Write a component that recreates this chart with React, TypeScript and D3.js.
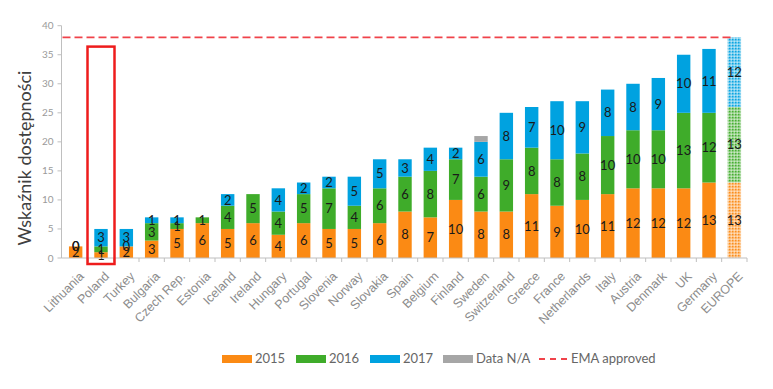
import React, { useEffect, useRef } from "react";
import * as d3 from "d3";

// countries in chart order
const countries = [
  "Lithuania", "Poland", "Turkey", "Bulgaria", "Czech Rep.", "Estonia", "Iceland",
  "Ireland", "Hungary", "Portugal", "Slovenia", "Norway", "Slovakia", "Spain",
  "Belgium", "Finland", "Sweden", "Switzerland", "Greece", "France", "Netherlands",
  "Italy", "Austria", "Denmark", "UK", "Germany", "EUROPE",
];
const v2015 = [2, 1, 2, 3, 5, 6, 5, 6, 4, 6, 5, 5, 6, 8, 7, 10, 8, 8, 11, 9, 10, 11, 12, 12, 12, 13, 13];
const v2016 = [0, 1, 0, 3, 1, 1, 4, 5, 4, 5, 7, 4, 6, 6, 8, 7, 6, 9, 8, 8, 8, 10, 10, 10, 13, 12, 13];
const v2017 = [0, 3, 3, 1, 1, 0, 2, 0, 4, 2, 2, 5, 5, 3, 4, 2, 6, 8, 7, 10, 9, 8, 8, 9, 10, 11, 12];
const vNA = [0, 0, 0, 0, 0, 0, 0, 0, 0, 0, 0, 0, 0, 0, 0, 0, 1, 0, 0, 0, 0, 0, 0, 0, 0, 0, 0];
// Estonia and Ireland show no 2017 label
const showLabel2017 = [true, true, true, true, true, false, true, false, true, true, true, true, true, true, true, true, true, true, true, true, true, true, true, true, true, true, true];
const emaApproved = 38;
const highlighted = "Poland";
const highlightTop = 36.4;
const yTicks = [0, 5, 10, 15, 20, 25, 30, 35, 40];

const seriesKeys = ["2015", "2016", "2017", "Data N/A"];
const colors: Record<string, string> = {
  "2015": "#fb8a14",
  "2016": "#3fac2a",
  "2017": "#00a2e0",
  "Data N/A": "#a6a6a6",
};

const W = 773, H = 389;

const App: React.FC = () => {
  const svgRef = useRef<SVGSVGElement | null>(null);

  useEffect(() => {
    const svg = d3.select(svgRef.current);
    svg.selectAll("*").remove();

    const rows = countries.map((c, i) => ({
      country: c,
      "2015": v2015[i],
      "2016": v2016[i],
      "2017": v2017[i],
      "Data N/A": vNA[i],
      i,
    }));

    const x = d3.scaleBand().domain(countries).range([63, 747]).paddingInner(0.47).paddingOuter(0.235);
    const y = d3.scaleLinear().domain([0, 40]).range([258, 25.7]);
    const axisColor = "#bfbfbf";
    const x0 = 61.5;

    // patterns for the EUROPE bar
    const defs = svg.append("defs");
    seriesKeys.forEach(k => {
      const p = defs.append("pattern")
        .attr("id", "pat-" + k.replace(/\W/g, ""))
        .attr("patternUnits", "userSpaceOnUse")
        .attr("width", 3).attr("height", 3);
      p.append("rect").attr("width", 3).attr("height", 3).attr("fill", "#fff");
      p.append("rect").attr("width", 3).attr("height", 3).attr("fill", colors[k]).attr("opacity", 0.5);
      p.append("circle").attr("cx", 0.75).attr("cy", 0.75).attr("r", 0.8).attr("fill", colors[k]);
      p.append("circle").attr("cx", 2.25).attr("cy", 2.25).attr("r", 0.6).attr("fill", "#fff").attr("opacity", 0.8);
    });

    // y axis
    svg.append("line").attr("x1", x0).attr("x2", x0).attr("y1", y(0)).attr("y2", y(40))
      .attr("stroke", axisColor);
    const yt = svg.append("g");
    yTicks.forEach(t => {
      yt.append("line").attr("x1", x0 - 4).attr("x2", x0).attr("y1", y(t)).attr("y2", y(t)).attr("stroke", axisColor);
      yt.append("text").attr("x", x0 - 8).attr("y", y(t)).attr("dy", "0.35em")
        .attr("text-anchor", "end").attr("font-family", "Lato, sans-serif").attr("font-size", 10)
        .attr("fill", "#9a9a9a").text(t);
    });

    svg.append("text")
      .attr("transform", `translate(31,158) rotate(-90)`)
      .attr("text-anchor", "middle")
      .attr("font-family", "Lato, sans-serif").attr("font-size", 18).attr("fill", "#404040")
      .text("Wskaźnik dostępności");

    // stacked bars
    const stack = d3.stack<any>().keys(seriesKeys)(rows);
    const g = svg.append("g");
    stack.forEach(layer => {
      const k = layer.key;
      layer.forEach(d => {
        const row = d.data;
        const h = y(d[0]) - y(d[1]);
        if (h <= 0) return;
        const fill = row.country === "EUROPE" ? `url(#pat-${k.replace(/\W/g, "")})` : colors[k];
        g.append("rect")
          .attr("x", x(row.country)!)
          .attr("y", y(d[1]))
          .attr("width", x.bandwidth())
          .attr("height", h)
          .attr("fill", fill);
      });
    });

    // value labels
    const lab = svg.append("g").attr("font-family", "Lato, sans-serif").attr("font-size", 13)
      .attr("fill", "#1a1a1a").attr("text-anchor", "middle");
    stack.forEach(layer => {
      const k = layer.key;
      if (k === "Data N/A") return;
      layer.forEach(d => {
        const row = d.data;
        if (k === "2017" && !showLabel2017[row.i]) return;
        lab.append("text")
          .attr("x", x(row.country)! + x.bandwidth() / 2)
          .attr("y", y((d[0] + d[1]) / 2))
          .attr("dy", "0.36em")
          .text(row[k]);
      });
    });

    // x axis
    svg.append("line").attr("x1", x0).attr("x2", x.range()[1]).attr("y1", y(0)).attr("y2", y(0))
      .attr("stroke", axisColor);
    const step = x.step();
    countries.forEach((c, i) => {
      const bx = x.range()[0] + step * (i + 1);
      svg.append("line").attr("x1", bx).attr("x2", bx).attr("y1", y(0)).attr("y2", y(0) + 4).attr("stroke", axisColor);
      const cx = x(c)! + x.bandwidth() / 2;
      svg.append("text")
        .attr("transform", `translate(${cx + 9},${y(0) + 19}) rotate(-45)`)
        .attr("text-anchor", "end")
        .attr("font-family", "Liberation Sans, Arial, sans-serif").attr("font-size", 12.5)
        .attr("fill", "#8c8c8c")
        .text(c);
    });

    // EMA approved line
    svg.append("line")
      .attr("x1", x0 + 1).attr("x2", x("EUROPE")! + x.bandwidth() / 2)
      .attr("y1", y(emaApproved)).attr("y2", y(emaApproved))
      .attr("stroke", "#f0434a").attr("stroke-width", 1.8).attr("stroke-dasharray", "8,4");

    // highlight box
    const hx = x(highlighted)! + x.bandwidth() / 2;
    svg.append("rect")
      .attr("x", hx - 13.5).attr("y", y(highlightTop))
      .attr("width", 27).attr("height", y(0) + 6 - y(highlightTop))
      .attr("fill", "none").attr("stroke", "#ee1c1c").attr("stroke-width", 2.5);

    // legend
    const leg = svg.append("g").attr("font-family", "Lato, sans-serif").attr("font-size", 13).attr("fill", "#666");
    const legItems = [
      { k: "2015", x: 222 },
      { k: "2016", x: 296 },
      { k: "2017", x: 370 },
      { k: "Data N/A", x: 443 },
    ];
    legItems.forEach(it => {
      leg.append("rect").attr("x", it.x).attr("y", 355).attr("width", 30).attr("height", 8).attr("fill", colors[it.k]);
      leg.append("text").attr("x", it.x + 33).attr("y", 363).text(it.k);
    });
    leg.append("line").attr("x1", 539).attr("x2", 568).attr("y1", 359).attr("y2", 359)
      .attr("stroke", "#f0434a").attr("stroke-width", 1.8).attr("stroke-dasharray", "6,5");
    leg.append("text").attr("x", 571).attr("y", 363).text("EMA approved");
  }, []);

  return <svg ref={svgRef} width={W} height={H} style={{ position: "absolute", left: 0, top: 0, background: "#fff" }}></svg>;
};

export default App;
